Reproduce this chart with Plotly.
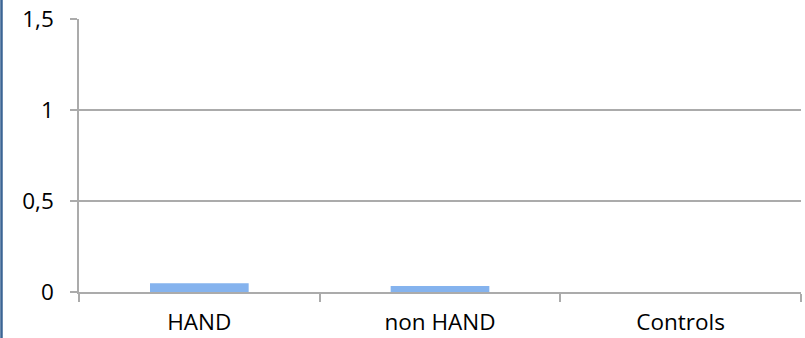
import plotly.graph_objects as go

# Groups and their mean values
groups = ["HAND", "non HAND", "Controls"]
values = [0.048, 0.033, 0.0]

# Value axis ticks
y_ticks = [0, 0.5, 1, 1.5]

grid_color = "#ababab"
font = dict(family="Open Sans, Liberation Sans, sans-serif", size=22.5, color="#000000")

fig = go.Figure()
fig.add_trace(go.Bar(
    x=groups,
    y=values,
    width=0.41,
    marker=dict(color="#85b3ee", line=dict(width=0)),
))

fig.update_layout(
    width=805,
    height=338,
    margin=dict(l=79, r=4, t=19, b=46),
    paper_bgcolor="white",
    plot_bgcolor="white",
    showlegend=False,
    separators=",.",
    font=font,
    xaxis=dict(
        type="category",
        automargin=False,
        tickson="boundaries",
        ticks="outside",
        ticklen=8,
        tickwidth=1.5,
        tickcolor=grid_color,
        showline=True,
        linecolor=grid_color,
        linewidth=1.5,
        showgrid=False,
        tickfont=font,
        ticklabelstandoff=9,
    ),
    yaxis=dict(
        automargin=False,
        range=[0, 1.5],
        tickvals=y_ticks,
        ticks="outside",
        ticklen=7,
        tickwidth=1.5,
        tickcolor=grid_color,
        showline=True,
        linecolor=grid_color,
        linewidth=1.5,
        showgrid=True,
        gridcolor=grid_color,
        gridwidth=1.5,
        zeroline=False,
        tickfont=font,
        ticklabelstandoff=12,
    ),
)

# Dark blue frame edge on the left side of the page
fig.add_shape(
    type="line", xref="paper", yref="paper",
    x0=-77.5 / 722, x1=-77.5 / 722, y0=-0.2, y1=1.1,
    line=dict(color="#3b6594", width=2.5),
)

fig.write_html("out.html")
